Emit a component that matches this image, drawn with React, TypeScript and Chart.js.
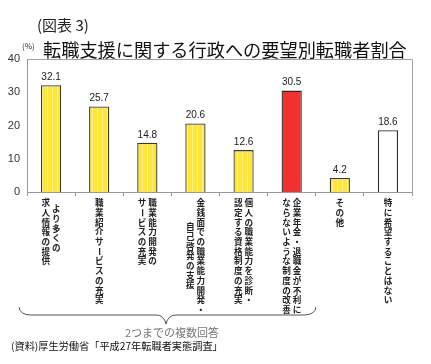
import React, { useEffect, useRef } from "react";
import { Chart, registerables } from "chart.js";

Chart.register(...registerables);

// ---- data ----
const categoryColumns: string[][] = [
  ["より多くの", "求人情報の提供"],
  ["職業紹介サービスの充実"],
  ["職業能力開発の", "サービスの充実"],
  ["金銭面での職業能力開発・", "自己啓発の支援"],
  ["個人の職業能力を診断・", "認定する資格制度の充実"],
  ["企業年金・退職金が不利に", "ならないような制度の改善"],
  ["その他"],
  ["特に希望することはない"],
];
const values = [32.1, 25.7, 14.8, 20.6, 12.6, 30.5, 4.2, 18.6];
const barKinds = ["yellow", "yellow", "yellow", "yellow", "yellow", "red", "yellow", "white"];
const yTicks = [0, 10, 20, 30, 40];
const figureLabel = "(図表 3)";
const titleText = "転職支援に関する行政への要望別転職者割合";
const unitText = "(%)";
const braceNote = "2つまでの複数回答";
const sourceText = "(資料)厚生労働省「平成27年転職者実態調査」";

// ---- label layout (style, not data) ----
const columnShift: number[][] = [[6, 0], [0], [0, 0], [0, 24], [0, 0], [0, 0], [0], [0]];
const JP = '"Noto Sans CJK JP", "Noto Sans", sans-serif';

function makeStripePattern(ctx: CanvasRenderingContext2D): CanvasPattern | string {
  const c = document.createElement("canvas");
  c.width = 5;
  c.height = 4;
  const p = c.getContext("2d");
  if (!p) return "#FFE53B";
  p.fillStyle = "#FFE43A";
  p.fillRect(0, 0, 5, 4);
  p.fillStyle = "#FFF27E";
  p.fillRect(2, 0, 1, 4);
  return ctx.createPattern(c, "repeat") || "#FFE53B";
}

const decorPlugin = {
  id: "decor",
  beforeDatasetsDraw(chart: any) {
    const { ctx, chartArea } = chart;
    ctx.save();
    ctx.strokeStyle = "#a0a0a0";
    ctx.lineWidth = 1;
    ctx.beginPath();
    ctx.moveTo(chartArea.left, chartArea.top + 0.5);
    ctx.lineTo(chartArea.right + 0.5, chartArea.top + 0.5);
    ctx.lineTo(chartArea.right + 0.5, chartArea.bottom);
    ctx.stroke();
    ctx.restore();
  },
  afterDraw(chart: any) {
    const { ctx } = chart;
    const xs = chart.scales.x;
    const ys = chart.scales.y;
    ctx.save();

    // figure label & title
    ctx.fillStyle = "#222";
    ctx.textBaseline = "middle";
    ctx.textAlign = "left";
    ctx.font = `15px ${JP}`;
    ctx.fillText(figureLabel, 37, 25);
    ctx.fillStyle = "#111";
    ctx.font = `18.2px ${JP}`;
    ctx.fillText(titleText, 43, 50);
    ctx.fillStyle = "#333";
    ctx.font = `8px ${JP}`;
    ctx.fillText(unitText, 22, 46);

    // data labels
    ctx.fillStyle = "#222";
    ctx.font = '10px "Liberation Sans", Arial, sans-serif';
    ctx.textAlign = "center";
    ctx.textBaseline = "bottom";
    values.forEach((v, i) => {
      ctx.fillText(v.toFixed(1), xs.getPixelForValue(i), ys.getPixelForValue(v) - 3);
    });

    // vertical category labels
    ctx.font = `bold 8.6px ${JP}`;
    ctx.textBaseline = "middle";
    ctx.fillStyle = "#222";
    const colGap = 10.5;
    const step = 9.7;
    const top0 = chart.chartArea.bottom + 11;
    categoryColumns.forEach((cols, i) => {
      const cx = xs.getPixelForValue(i);
      const n = cols.length;
      cols.forEach((col, j) => {
        const x = cx + ((n - 1) / 2 - j) * colGap;
        const shift = (columnShift[i] && columnShift[i][j]) || 0;
        Array.from(col).forEach((ch, k) => {
          const y = top0 + shift + k * step;
          if (ch === "ー") {
            ctx.save();
            ctx.translate(x, y);
            ctx.rotate(Math.PI / 2);
            ctx.fillText(ch, 0, 0);
            ctx.restore();
          } else {
            ctx.fillText(ch, x, y);
          }
        });
      });
    });

    // brace
    const bl = 19, br = 316, by = 315, mid = 166, dip = 324;
    ctx.strokeStyle = "#555";
    ctx.lineWidth = 1;
    ctx.beginPath();
    ctx.moveTo(bl, by - 8);
    ctx.quadraticCurveTo(bl + 1, by, bl + 12, by);
    ctx.lineTo(mid - 10, by);
    ctx.quadraticCurveTo(mid - 2, by, mid, dip);
    ctx.quadraticCurveTo(mid + 2, by, mid + 10, by);
    ctx.lineTo(br - 12, by);
    ctx.quadraticCurveTo(br - 1, by, br, by - 8);
    ctx.stroke();

    ctx.fillStyle = "#777";
    ctx.font = `11px ${JP}`;
    ctx.textAlign = "center";
    ctx.textBaseline = "middle";
    ctx.fillText(braceNote, 172, 333);

    ctx.fillStyle = "#111";
    ctx.font = `10.2px ${JP}`;
    ctx.textAlign = "left";
    ctx.fillText(sourceText, 11, 346);
    ctx.restore();
  },
};

export default function App() {
  const ref = useRef<HTMLCanvasElement | null>(null);
  useEffect(() => {
    const canvas = ref.current;
    if (!canvas) return;
    const ctx = canvas.getContext("2d");
    if (!ctx) return;
    const stripe = makeStripePattern(ctx);
    const bg = barKinds.map((k) => (k === "red" ? "#F2302E" : k === "white" ? "#FFFFFF" : stripe));
    const bc = barKinds.map((k) => (k === "yellow" ? "#3d3a22" : "#2a2a2a"));
    const chart = new Chart(ctx, {
      type: "bar",
      data: {
        labels: categoryColumns.map((c) => c.join("")),
        datasets: [
          {
            data: values,
            backgroundColor: bg as any,
            borderColor: bc,
            borderWidth: 1.3,
            barPercentage: 0.42,
            categoryPercentage: 1,
          },
        ],
      },
      options: {
        responsive: false,
        animation: false,
        devicePixelRatio: 1,
        layout: { padding: { left: 0, top: 59, right: 19, bottom: 168 } },
        plugins: { legend: { display: false }, tooltip: { enabled: false }, title: { display: false } },
        scales: {
          x: {
            type: "category",
            offset: true,
            grid: { display: true, drawOnChartArea: false, drawTicks: true, tickLength: 4, offset: true, color: "#999" },
            border: { display: true, color: "#999" },
            ticks: { display: false },
            afterFit: (s: any) => {
              s.height = 4;
            },
          },
          y: {
            min: 0,
            max: 40,
            grid: { display: false, drawTicks: false },
            border: { display: true, color: "#999" },
            afterBuildTicks: (s: any) => {
              s.ticks = yTicks.map((v) => ({ value: v }));
            },
            ticks: {
              stepSize: 10,
              padding: 7,
              color: "#333",
              font: { family: '"Liberation Sans", Arial, sans-serif', size: 11 },
            },
            afterFit: (s: any) => {
              s.width = 27;
            },
          },
        },
      },
      plugins: [decorPlugin],
    });
    return () => chart.destroy();
  }, []);
  return (
    <div style={{ position: "fixed", left: 0, top: 0, width: 431, height: 364, background: "#fff" }}>
      <canvas ref={ref} width={431} height={364} style={{ display: "block", width: 431, height: 364 }} />
    </div>
  );
}
